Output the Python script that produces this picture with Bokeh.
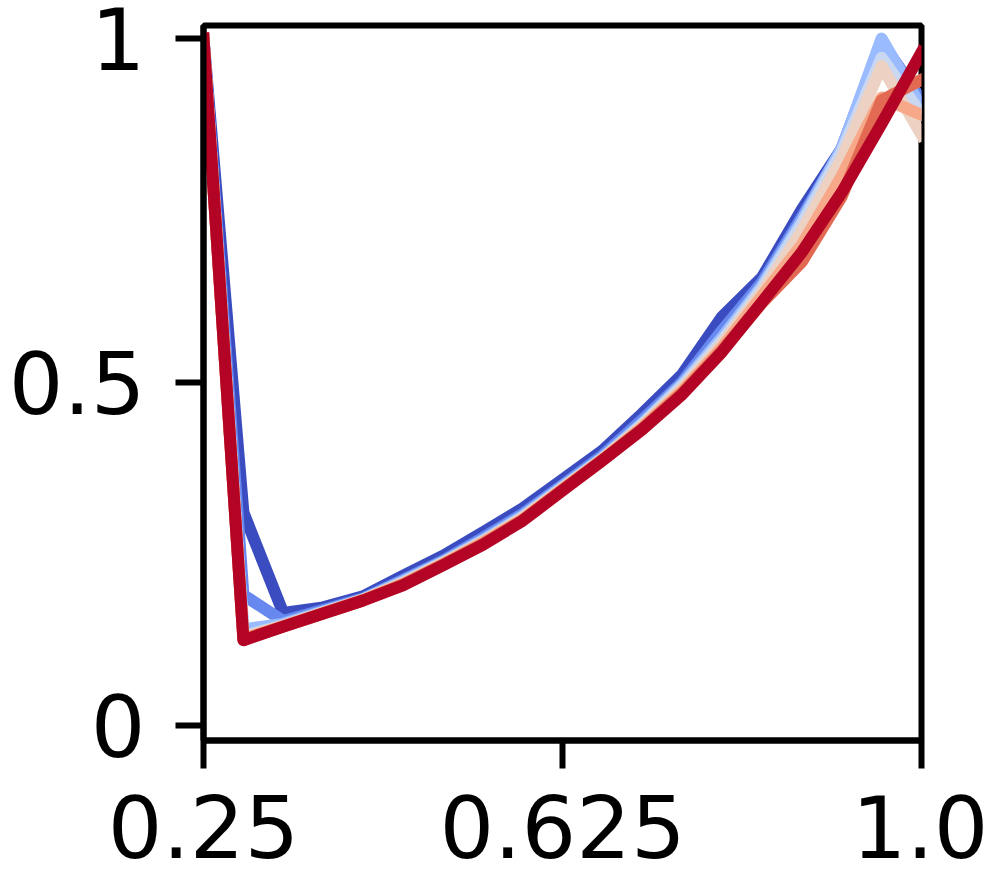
from bokeh.plotting import figure
from bokeh.models import Range1d, FixedTicker
from bokeh.embed import file_html
from bokeh.resources import INLINE

# x grid of the curves
x_vals = [0.25, 0.2917, 0.3333, 0.375, 0.4167, 0.4583, 0.5, 0.5417, 0.5833, 0.625,
          0.6667, 0.7083, 0.75, 0.7917, 0.8333, 0.875, 0.9167, 0.9583, 1.0]

series_0 = [1.0, 0.31, 0.164, 0.172, 0.188, 0.218, 0.247, 0.281, 0.316, 0.358,
            0.40, 0.454, 0.511, 0.595, 0.652, 0.751, 0.84, 0.995, 0.91]
series_1 = [1.0, 0.19, 0.152, 0.168, 0.185, 0.212, 0.24, 0.273, 0.308, 0.35,
            0.393, 0.445, 0.50, 0.575, 0.645, 0.74, 0.84, 0.995, 0.91]
series_2 = [1.0, 0.14, 0.148, 0.166, 0.184, 0.21, 0.238, 0.27, 0.305, 0.348,
            0.39, 0.44, 0.497, 0.565, 0.64, 0.735, 0.84, 1.0, 0.90]
series_3 = [1.0, 0.13, 0.146, 0.165, 0.183, 0.208, 0.237, 0.268, 0.303, 0.346,
            0.388, 0.438, 0.494, 0.56, 0.636, 0.73, 0.835, 0.972, 0.89]
series_4 = [1.0, 0.128, 0.145, 0.164, 0.183, 0.207, 0.236, 0.267, 0.302, 0.345,
            0.388, 0.436, 0.49, 0.555, 0.63, 0.72, 0.825, 0.96, 0.86]
series_5 = [1.0, 0.126, 0.145, 0.164, 0.183, 0.206, 0.235, 0.266, 0.30, 0.344,
            0.387, 0.434, 0.487, 0.55, 0.625, 0.70, 0.80, 0.914, 0.889]
series_6 = [1.0, 0.125, 0.144, 0.163, 0.182, 0.205, 0.234, 0.264, 0.299, 0.343,
            0.386, 0.432, 0.484, 0.546, 0.615, 0.675, 0.77, 0.91, 0.94]
series_7 = [1.0, 0.124, 0.144, 0.163, 0.182, 0.204, 0.233, 0.263, 0.298, 0.342,
            0.386, 0.431, 0.482, 0.544, 0.616, 0.689, 0.776, 0.876, 0.98]

colors = ["#3b4cc0", "#6788ee", "#9abbff", "#c9d7f0",
          "#edd1c2", "#f7a889", "#e26952", "#b40426"]

x_ticks = [0.25, 0.625, 1.0]
x_tick_labels = ["0.25", "0.625", "1.0"]
y_ticks = [0, 0.5, 1]
y_tick_labels = ["0", "0.5", "1"]

all_series = [series_0, series_1, series_2, series_3,
              series_4, series_5, series_6, series_7]

p = figure(width=988, height=885, output_backend="svg", toolbar_location=None,
           x_range=Range1d(0.25, 1.0), y_range=Range1d(-0.0218, 1.019),
           min_border_left=203, min_border_right=67,
           min_border_top=25, min_border_bottom=145)

for ys, c in zip(all_series, colors):
    p.line(x_vals, ys, line_color=c, line_width=12,
           line_join="round", line_cap="square")

p.xgrid.visible = False
p.ygrid.visible = False
p.background_fill_color = "white"
p.border_fill_color = "white"
p.outline_line_color = "black"
p.outline_line_width = 6
p.outline_line_alpha = 1.0

p.xaxis.ticker = FixedTicker(ticks=x_ticks)
p.yaxis.ticker = FixedTicker(ticks=y_ticks)
p.xaxis.major_label_overrides = {float(t): l for t, l in zip(x_ticks, x_tick_labels)}
p.yaxis.major_label_overrides = {float(t): l for t, l in zip(y_ticks, y_tick_labels)}

for ax in (p.xaxis, p.yaxis):
    ax.axis_line_width = 6
    ax.axis_line_color = "black"
    ax.major_tick_line_width = 6
    ax.major_tick_line_color = "black"
    ax.major_tick_out = 28
    ax.major_tick_in = 0
    ax.minor_tick_line_color = None
    ax.major_label_text_font = "DejaVu Sans"
    ax.major_label_text_font_size = "86px"
    ax.major_label_text_color = "black"

p.xaxis.major_label_standoff = 26
p.yaxis.major_label_standoff = 30

open("out.html", "w").write(file_html(p, INLINE))
